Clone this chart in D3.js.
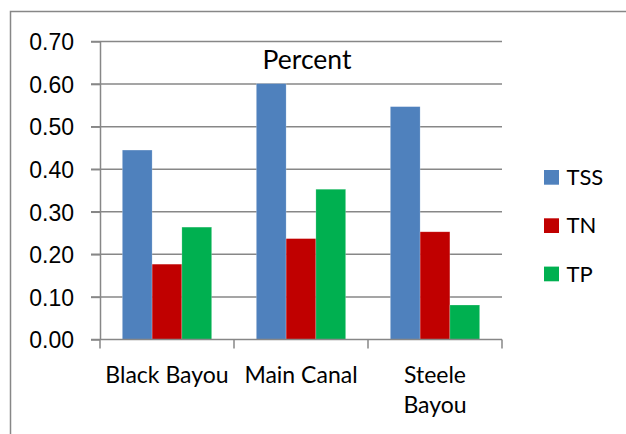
<!DOCTYPE html>
<html>
  <head>
    <meta charset="utf-8">
    <title>Percent</title>
    <script src="https://cdn.jsdelivr.net/npm/d3@7"></script>
    <style>
      body { margin: 0; background: #fff; }
      svg { display: block; font-family: Lato, "Open Sans", sans-serif; }
      .grid line, .axis line, .axis path { stroke: #878787; stroke-width: 1.5; }
      .axis text { font-size: 23px; fill: #000; }
    </style>
  </head>
  <body>
    <svg id="chart" width="626" height="434"></svg>

    <script>
      // data
      sites = ["Black Bayou", "Main Canal", "Steele Bayou"];
      siteLines = [["Black Bayou"], ["Main Canal"], ["Steele", "Bayou"]];
      series = ["TSS", "TN", "TP"];
      colours = ["#4F81BD", "#C00000", "#00B050"];
      tss = [0.445, 0.601, 0.547];
      tn = [0.177, 0.237, 0.253];
      tp = [0.264, 0.353, 0.081];
      yTicks = [0, 0.1, 0.2, 0.3, 0.4, 0.5, 0.6, 0.7];

      values = [tss, tn, tp];
      rows = [];
      sites.forEach(function(s, i) {
        series.forEach(function(k, j) {
          rows.push({ site: s, key: k, value: values[j][i] });
        });
      });

      // page elements
      svg = d3.select("#chart");
      plotLeft = 100;
      plotRight = 502;
      plotTop = 41.5;
      plotBottom = 339.5;

      // outer chart border
      svg.append("rect")
        .attr("x", 10.5)
        .attr("y", 11.5)
        .attr("width", 700)
        .attr("height", 500)
        .attr("fill", "none")
        .attr("stroke", "#878787")
        .attr("stroke-width", 1.5);

      x = d3.scaleBand()
        .domain(sites)
        .range([plotLeft, plotRight]);
      x1 = d3.scaleBand()
        .domain(series)
        .range([0, x.bandwidth()])
        .paddingOuter(0.75);
      y = d3.scaleLinear()
        .domain([0, 0.7])
        .range([plotBottom, plotTop]);
      colour = d3.scaleOrdinal()
        .domain(series)
        .range(colours);

      // gridlines and y axis
      svg.append("g")
        .attr("class", "grid")
        .selectAll("line")
        .data(yTicks.slice(1))
        .enter().append("line")
          .attr("x1", plotLeft - 9)
          .attr("x2", plotRight)
          .attr("y1", function(d) { return y(d); })
          .attr("y2", function(d) { return y(d); });

      yAxis = svg.append("g")
        .attr("class", "axis")
        .attr("transform", "translate(" + plotLeft + ",0)")
        .call(d3.axisLeft(y)
          .tickValues(yTicks)
          .tickFormat(d3.format(".2f"))
          .tickSize(9)
          .tickSizeOuter(0)
          .tickPadding(17));
      yAxis.selectAll("text").attr("dy", "0.36em");

      // bars
      svg.append("g")
        .selectAll("rect")
        .data(rows)
        .enter().append("rect")
          .attr("x", function(d) { return x(d.site) + x1(d.key); })
          .attr("width", x1.bandwidth())
          .attr("y", function(d) { return y(d.value); })
          .attr("height", function(d) { return y(0) - y(d.value); })
          .attr("fill", function(d) { return colour(d.key); })
          .attr("stroke", "rgba(255,255,255,0.35)")
          .attr("stroke-width", 0.6);

      // x axis
      xAxis = svg.append("g")
        .attr("class", "axis")
        .attr("transform", "translate(0," + plotBottom + ")");
      xAxis.append("line")
        .attr("x1", plotLeft - 9)
        .attr("x2", plotRight)
        .attr("y1", 0)
        .attr("y2", 0);
      xAxis.selectAll(".tick")
        .data(sites.map(function(s) { return x(s); }).concat([plotRight]))
        .enter().append("line")
          .attr("x1", function(d) { return d; })
          .attr("x2", function(d) { return d; })
          .attr("y1", 0)
          .attr("y2", 9);
      xAxis.selectAll(".label")
        .data(sites)
        .enter().append("text")
          .attr("class", "label")
          .attr("text-anchor", "middle")
          .attr("x", function(d) { return x(d) + x.bandwidth() / 2; })
          .attr("y", 43)
          .each(function(d, i) {
            d3.select(this).selectAll("tspan")
              .data(siteLines[i])
              .enter().append("tspan")
                .attr("x", x(d) + x.bandwidth() / 2)
                .attr("dy", function(t, k) { return k ? 30.5 : 0; })
                .text(function(t) { return t; });
          });

      // title
      svg.append("text")
        .attr("x", 307)
        .attr("y", 69.3)
        .attr("text-anchor", "middle")
        .style("font-size", "26.5px")
        .text("Percent");

      // legend
      legend = svg.append("g")
        .selectAll("g")
        .data(series)
        .enter().append("g")
          .attr("transform", function(d, i) {
            return "translate(544," + (170 + i * 48.3) + ")";
          });
      legend.append("rect")
        .attr("width", 15)
        .attr("height", 14.7)
        .attr("fill", function(d) { return colour(d); });
      legend.append("text")
        .attr("x", 22.5)
        .attr("y", 15)
        .style("font-size", "22px")
        .text(function(d) { return d; });
    </script>
  </body>
</html>
